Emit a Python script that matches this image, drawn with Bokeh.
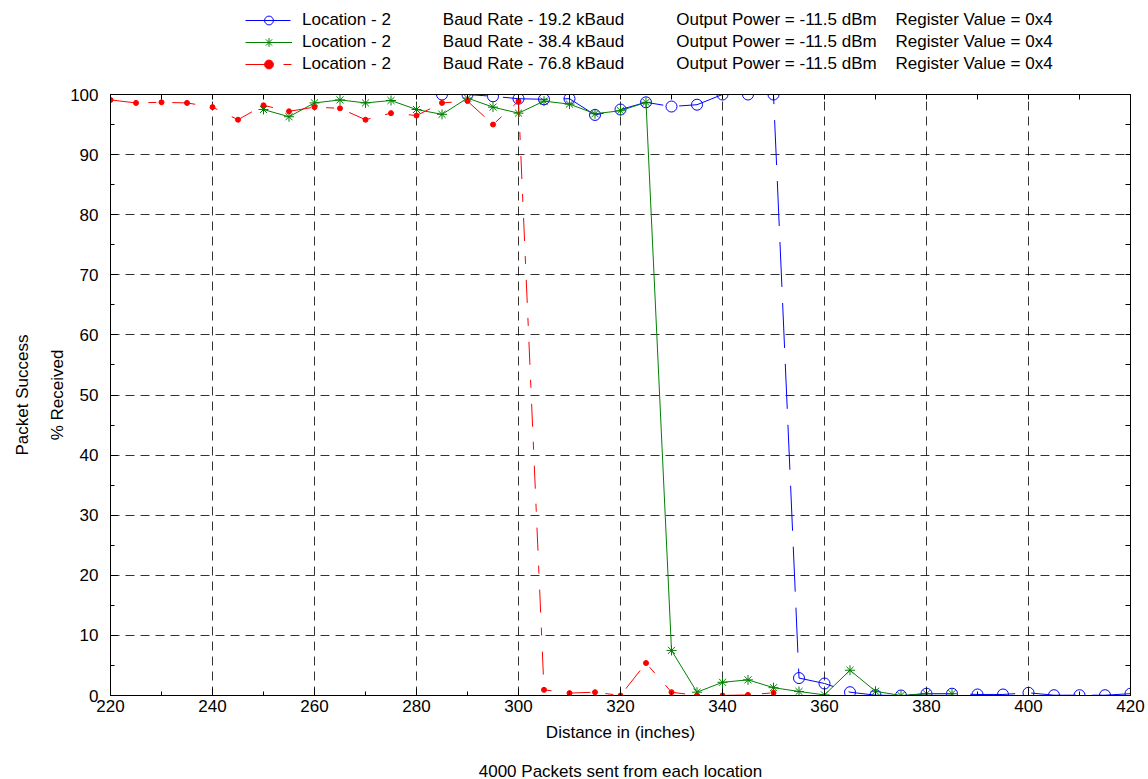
from bokeh.plotting import figure
from bokeh.layouts import column
from bokeh.models import (Legend, LegendItem, LinearAxis, FixedTicker, Range1d, Title)
from bokeh.embed import file_html
from bokeh.resources import INLINE

FONT = "Liberation Sans"
FS = "17px"

# ---- data ----
x_blue = [285, 290, 295, 300, 305, 310, 315, 320, 325, 330, 335, 340, 345, 350,
          355, 360, 365, 370, 375, 380, 385, 390, 395, 400, 405, 410, 415, 420]
y_blue = [100, 100, 99.7, 99.3, 99.2, 99.3, 96.6, 97.5, 98.7, 98.0, 98.3, 100, 100, 100,
          2.9, 2.0, 0.55, 0.05, 0, 0.3, 0.3, 0.17, 0.17, 0.45, 0.05, 0.05, 0.05, 0.3]

x_green = [250, 255, 260, 265, 270, 275, 280, 285, 290, 295, 300, 305, 310, 315,
           320, 325, 330, 335, 340, 345, 350, 355, 360, 365, 370, 375, 380, 385]
y_green = [97.5, 96.3, 98.6, 99.1, 98.6, 99.0, 97.5, 96.7, 99.4, 97.9, 96.9, 98.9, 98.4, 96.8,
           97.3, 98.7, 7.5, 0.55, 2.2, 2.6, 1.3, 0.67, 0.1, 4.2, 0.7, 0, 0.3, 0.3]

x_red = [220, 225, 230, 235, 240, 245, 250, 255, 260, 265, 270, 275, 280, 285, 290, 295, 300,
         305, 310, 315, 320, 325, 330, 335, 340, 345, 350]
y_red = [99.1, 98.6, 98.7, 98.6, 97.9, 95.8, 98.2, 97.2, 97.9, 97.7, 95.8, 96.9, 96.5, 98.6, 98.9, 95.0, 98.9,
         0.94, 0.4, 0.55, 0, 5.4, 0.55, 0, 0, 0.1, 0.45]

x_ticks = [220, 240, 260, 280, 300, 320, 340, 360, 380, 400, 420]
x_minor = [220, 230, 240, 250, 260, 270, 280, 290, 300, 310, 320, 330, 340, 350, 360, 370, 380, 390, 400, 410, 420]
y_ticks = [0, 10, 20, 30, 40, 50, 60, 70, 80, 90, 100]
y_minor = [0, 5, 10, 15, 20, 25, 30, 35, 40, 45, 50, 55, 60, 65, 70, 75, 80, 85, 90, 95, 100]

legend_loc = ["Location - 2", "Location - 2", "Location - 2"]
legend_baud = ["Baud Rate - 19.2 kBaud", "Baud Rate - 38.4 kBaud", "Baud Rate - 76.8 kBaud"]
legend_power = ["Output Power = -11.5 dBm"] * 3
legend_reg = ["Register Value = 0x4"] * 3

NB = "\u00a0"
legend_labels = [legend_loc[i] + NB * 11 + legend_baud[i] + NB * 11 + legend_power[i] + NB * 4 + legend_reg[i]
                 for i in range(3)]

BLUE, GREEN, RED = "#0000ff", "#008000", "#ff0000"
BLUE_DASH, RED_DASH = "45 16", "23 15 8 16"

# ---- main figure ----
p = figure(width=1148, height=699, frame_width=1020, frame_height=601,
           min_border_left=110, min_border_right=18, min_border_top=14, min_border_bottom=84,
           x_range=Range1d(220, 420), y_range=Range1d(0, 100),
           output_backend="svg", toolbar_location=None,
           background_fill_color="white", border_fill_color="white")
p.outline_line_color = "black"
p.outline_line_width = 1

p.xaxis.ticker = FixedTicker(ticks=x_ticks, minor_ticks=x_minor)
p.yaxis.ticker = FixedTicker(ticks=y_ticks, minor_ticks=y_minor)
for ax in (p.xaxis[0], p.yaxis[0]):
    ax.major_tick_in = 7
    ax.major_tick_out = 0
    ax.minor_tick_in = 4
    ax.minor_tick_out = 0
    ax.axis_line_color = "black"
    ax.major_tick_line_color = "black"
    ax.minor_tick_line_color = "black"
    ax.major_label_text_font = FONT
    ax.major_label_text_font_size = FS
    ax.major_label_text_color = "black"
    ax.axis_label_text_font = FONT
    ax.axis_label_text_font_size = FS
    ax.axis_label_text_font_style = "normal"
    ax.axis_label_text_color = "black"

p.xaxis.axis_label = "Distance in (inches)"
p.xaxis.major_label_standoff = 4
p.xaxis.axis_label_standoff = 8
p.yaxis.axis_label = "% Received"
p.yaxis.major_label_standoff = 12
p.yaxis.axis_label_standoff = 0

# box ticks on top and right (no labels)
for loc, mt in (("right", y_minor), ("above", x_minor)):
    ax = LinearAxis(ticker=FixedTicker(ticks=[], minor_ticks=mt), major_tick_in=0, major_tick_out=0,
                    minor_tick_in=5, minor_tick_out=0, axis_line_color="black",
                    minor_tick_line_color="black")
    p.add_layout(ax, loc)

for g in (p.xgrid[0], p.ygrid[0]):
    g.grid_line_color = "black"
    g.grid_line_alpha = 0.8
    g.grid_line_dash = "9 6"
    g.grid_line_width = 1

p.line(x_blue, y_blue, line_color=BLUE, line_width=1, line_dash=BLUE_DASH)
p.scatter(x_blue, y_blue, marker="circle", size=11, fill_color=None, line_color=BLUE, line_width=1)

p.line(x_green, y_green, line_color=GREEN, line_width=1)
p.scatter(x_green, y_green, marker="asterisk", size=10, line_color=GREEN, line_width=1)

p.line(x_red, y_red, line_color=RED, line_width=1, line_dash=RED_DASH)
p.scatter(x_red, y_red, marker="circle", size=5, fill_color=RED, line_color=RED)

p.add_layout(Title(text="Packet Success", align="center", vertical_align="top", text_font=FONT,
                   text_font_size=FS, text_font_style="normal", text_color="black", standoff=24), "left")
p.add_layout(Title(text="4000 Packets sent from each location", align="center", text_font=FONT,
                   text_font_size=FS, text_font_style="normal", text_color="black", standoff=30), "below")

# ---- legend strip above (proxy glyphs use the series' data, which lie outside this strip's range) ----
lg = figure(width=1148, height=80, x_range=Range1d(0, 1), y_range=Range1d(0, 1),
            x_axis_type=None, y_axis_type=None, min_border=0,
            output_backend="svg", toolbar_location=None)
lg.outline_line_color = None
bl = lg.line(x_blue, y_blue, line_color=BLUE, line_width=1, line_dash=BLUE_DASH)
bm = lg.scatter(x_blue, y_blue, marker="circle", size=11, fill_color=None, line_color=BLUE)
gl = lg.line(x_green, y_green, line_color=GREEN, line_width=1)
gm = lg.scatter(x_green, y_green, marker="asterisk", size=10, line_color=GREEN)
rl = lg.line(x_red, y_red, line_color=RED, line_width=1, line_dash=RED_DASH)
rm = lg.scatter(x_red, y_red, marker="circle", size=5, fill_color=RED, line_color=RED)

legend = Legend(items=[LegendItem(label=legend_labels[0], renderers=[bl, bm]),
                       LegendItem(label=legend_labels[1], renderers=[gl, gm]),
                       LegendItem(label=legend_labels[2], renderers=[rl, rm])],
                location=(135, 5), orientation="vertical",
                border_line_alpha=0, background_fill_alpha=0,
                padding=0, margin=0, spacing=0,
                glyph_width=47, glyph_height=22, label_height=22, label_standoff=10,
                label_text_font=FONT, label_text_font_size=FS, label_text_color="black")
lg.add_layout(legend, "center")

layout = column(lg, p, spacing=0)
open("out.html", "w").write(file_html(layout, INLINE))
